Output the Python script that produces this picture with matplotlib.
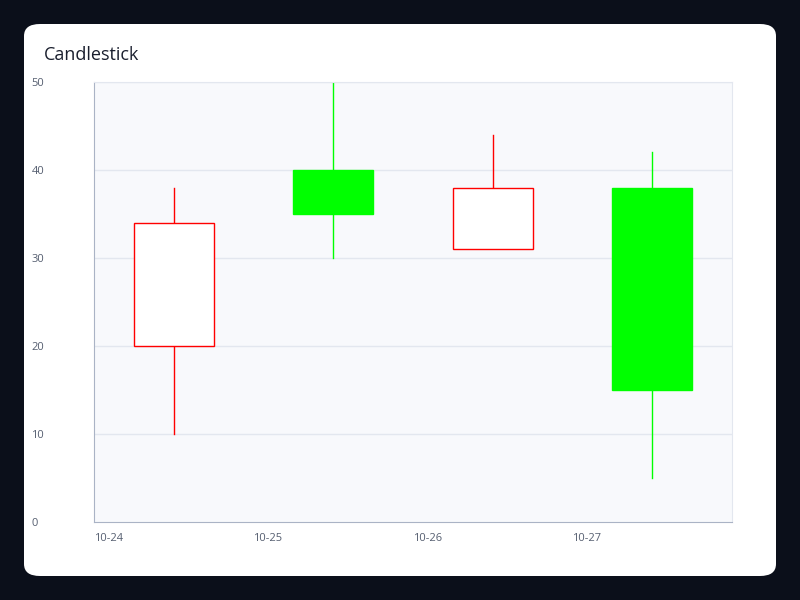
import matplotlib
matplotlib.use("Agg")
import matplotlib.pyplot as plt
from matplotlib.patches import FancyBboxPatch, Rectangle

dates = ["10-24", "10-25", "10-26", "10-27"]
opens = [20, 40, 31, 38]
closes = [34, 35, 38, 15]
lows = [10, 30, 31, 5]
highs = [38, 50, 44, 42]
yticks = [0, 10, 20, 30, 40, 50]

plt.rcParams['font.family'] = ['Open Sans', 'DejaVu Sans']
fig = plt.figure(figsize=(8, 6), dpi=100)
fig.patch.set_facecolor('#0b0f1a')
card = FancyBboxPatch((24/800, 24/600), 752/800, 552/600, boxstyle="round,pad=0,rounding_size=0.02",
                      transform=fig.transFigure, facecolor='white', edgecolor='none', zorder=-5)
fig.patches.append(card)
fig.text(44/800, 1-55/600, "Candlestick", fontsize=13, color='#1a1f2e', va='center')

ax = fig.add_axes([94/800, 78/600, 638/800, 440/600])
ax.set_facecolor('#f8f9fc')
ax.set_xlim(0, 4)
ax.set_ylim(0, 50)
for y in yticks[1:]:
    ax.axhline(y, color='#e3e7ef', lw=1, zorder=0)
for i, (o, c, l, h) in enumerate(zip(opens, closes, lows, highs)):
    x = i + 0.5
    up = c >= o
    col = '#ff0000' if up else '#00ff00'
    lo, hi = min(o, c), max(o, c)
    ax.plot([x, x], [l, lo], color=col, lw=1, zorder=2)
    ax.plot([x, x], [hi, h], color=col, lw=1, zorder=2)
    ax.add_patch(Rectangle((x-0.25, lo), 0.5, hi-lo, facecolor='white' if up else col,
                           edgecolor=col, lw=1, zorder=3))
ax.set_xticks(range(4))
ax.set_xticklabels(dates, ha='left')
ax.set_yticks(yticks)
ax.tick_params(length=0, labelsize=8, colors='#555e70', pad=8)
ax.tick_params(axis='y', pad=45)
for lab in ax.get_yticklabels():
    lab.set_ha('left')
for s in ['top', 'right']:
    ax.spines[s].set_color('#e3e7ef')
for s in ['left', 'bottom']:
    ax.spines[s].set_color('#aab3c5')
fig.savefig("out.png", facecolor=fig.get_facecolor())
